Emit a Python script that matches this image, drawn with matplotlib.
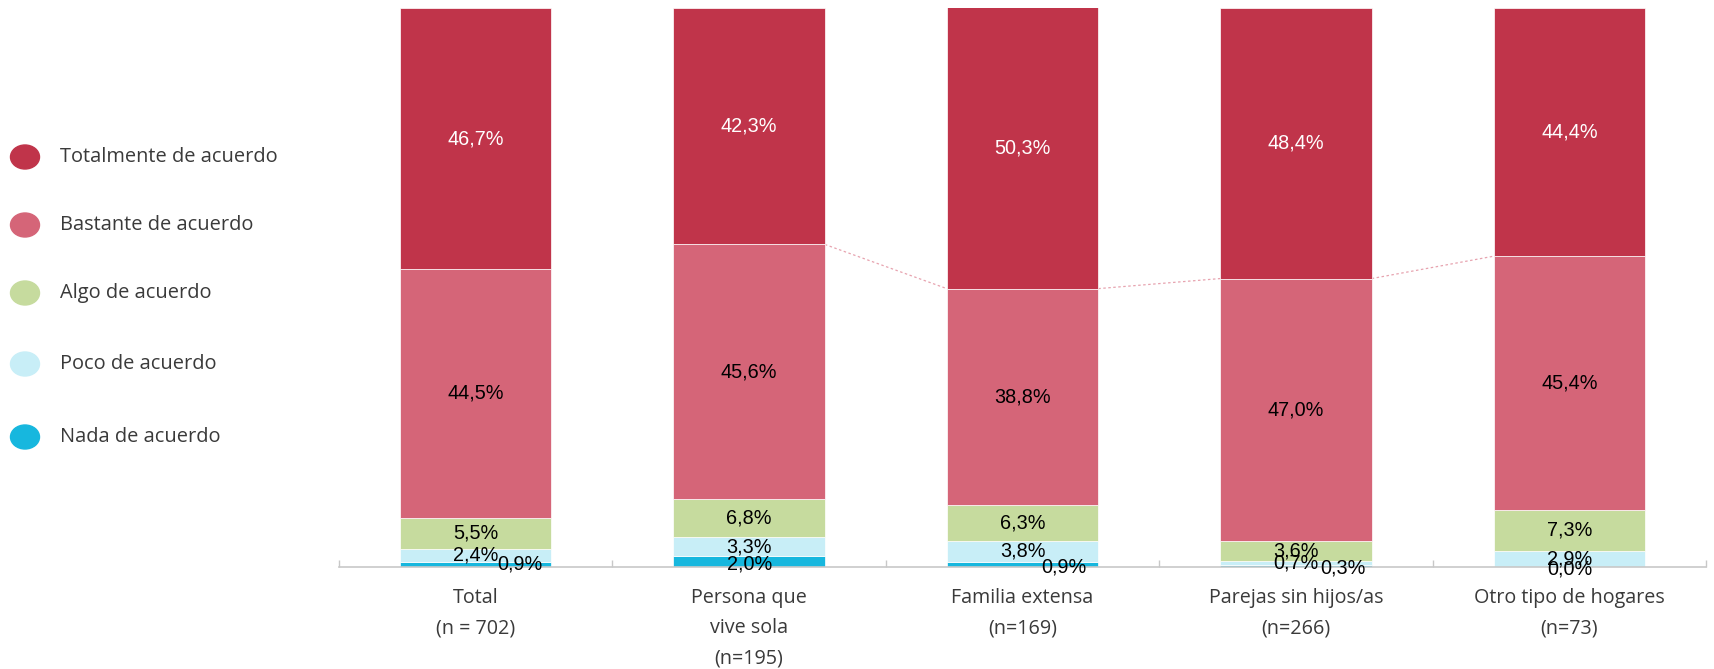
import matplotlib.pyplot as plt
import numpy as np
from matplotlib.patches import Ellipse

categories = ["Total\n(n = 702)", "Persona que\nvive sola\n(n=195)", "Familia extensa\n(n=169)",
              "Parejas sin hijos/as\n(n=266)", "Otro tipo de hogares\n(n=73)"]
series = ["Totalmente de acuerdo", "Bastante de acuerdo", "Algo de acuerdo",
          "Poco de acuerdo", "Nada de acuerdo"]

# values, stacked from the bottom
nada = [0.9, 2.0, 0.9, 0.3, 0.0]
poco = [2.4, 3.3, 3.8, 0.7, 2.9]
algo = [5.5, 6.8, 6.3, 3.6, 7.3]
bastante = [44.5, 45.6, 38.8, 47.0, 45.4]
totalmente = [46.7, 42.3, 50.3, 48.4, 44.4]

colors = {"Totalmente de acuerdo": "#C0344A", "Bastante de acuerdo": "#D56578",
          "Algo de acuerdo": "#C6DB9E", "Poco de acuerdo": "#C8EEF7",
          "Nada de acuerdo": "#17B7DE"}
label_colors = {"Totalmente de acuerdo": "white"}

# nudges for the small "Nada" labels (x in category units, y in %)
nada_dx = [0.16, 0.0, 0.15, 0.17, 0.0]
nada_dy = [0.0, -0.4, -0.4, -0.4, -0.4]

fig = plt.figure(figsize=(17.15, 6.69), dpi=100)
ax = fig.add_axes([0.1977, 0.1525, 0.9948 - 0.1977, 0.988 - 0.1525])

x = np.arange(len(categories))
width = 0.554
stack = [("Nada de acuerdo", nada), ("Poco de acuerdo", poco), ("Algo de acuerdo", algo),
         ("Bastante de acuerdo", bastante), ("Totalmente de acuerdo", totalmente)]

bottom = np.zeros(len(categories))
tops = {}
for name, vals in stack:
    vals = np.array(vals)
    ax.bar(x, vals, width, bottom=bottom, color=colors[name], edgecolor="white",
           linewidth=0.5, zorder=2)
    for i, v in enumerate(vals):
        cx = x[i]
        cy = bottom[i] + v / 2
        if name == "Nada de acuerdo":
            cx += nada_dx[i]
            cy += nada_dy[i]
        ax.text(cx, cy, f"{v:.1f}%".replace(".", ","), ha="center", va="center",
                fontsize=14.3, family="Liberation Sans",
                color=label_colors.get(name, "black"), zorder=4)
    bottom = bottom + vals
    tops[name] = bottom.copy()

# series lines between bars (top of "Bastante")
bt = tops["Bastante de acuerdo"]
for i in [1, 2, 3]:
    ax.plot([x[i] + width / 2, x[i + 1] - width / 2], [bt[i], bt[i + 1]],
            ls=(0, (2, 2)), color="#E7A3AF", lw=0.9, zorder=1)

ax.set_xlim(-0.5, 4.5)
ax.set_ylim(0, 100)
for s in ["top", "right", "left"]:
    ax.spines[s].set_visible(False)
ax.spines["bottom"].set_color("#C8C8C8")
ax.spines["bottom"].set_linewidth(1.2)
ax.set_yticks([])
ax.set_xticks(x)
ax.set_xticklabels(categories, family="Open Sans", fontsize=14.2, color="#3A3A3A",
                   linespacing=1.7, va="top")
ax.tick_params(axis="x", which="major", length=0, pad=15)
ax.set_xticks(np.arange(-0.5, 5, 1.0), minor=True)
ax.tick_params(axis="x", which="minor", direction="in", length=5, color="#C8C8C8", width=1)

# legend drawn by hand
leg_y = [157, 225, 293, 364, 437]
for name, yy in zip(series, leg_y):
    yf = 1 - yy / 669
    fig.add_artist(Ellipse((25 / 1715, yf), 29 / 1715, 24 / 669, transform=fig.transFigure,
                           color=colors[name]))
    fig.text(60 / 1715, yf, name, ha="left", va="center", family="Open Sans",
             fontsize=14.4, color="#3A3A3A")

fig.savefig("out.png", dpi=100)
